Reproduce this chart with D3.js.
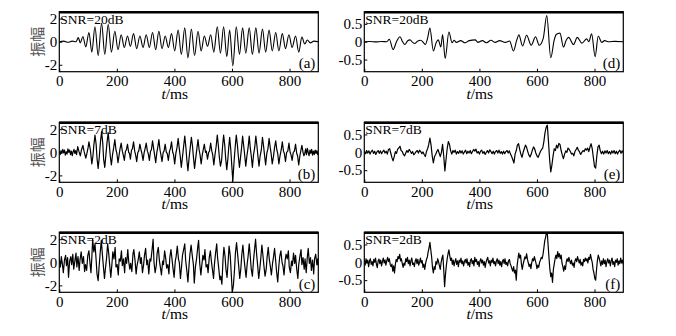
<!DOCTYPE html>
<html>
<head>
<meta charset="utf-8">
<script src="https://cdn.jsdelivr.net/npm/d3@7"></script>
<style>
  body { margin: 0; background: #fff; }
  svg { display: block; font-family: "Liberation Serif", "Times New Roman", serif; }
  .tick line { stroke: #000; stroke-width: 1; }
  .tick text { fill: #000; font-size: 15px; font-family: "Liberation Serif", serif; }
  .axis-title { font-size: 15.5px; }
  .snr-label { font-size: 13.5px; }
  .panel-tag { font-size: 15px; }
  .y-title { font-family: "Noto Sans CJK SC", sans-serif; font-size: 15px; fill: #555; }
</style>
</head>
<body>
<div id="chart"></div>
<script>
// time axis shared by every panel
const timeDomain = [0, 900];
const timeTicks = [0, 200, 400, 600, 800];

// amplitude axes: left column (a-c), right column (d-f)
const leftDomain = [-2.6, 2.6];
const leftTicks = [-2, 0, 2];
const rightDomain = [-0.84, 0.84];
const rightTicks = [-0.5, 0, 0.5];

const snrLabels = ["SNR=20dB", "SNR=7dB", "SNR=2dB"];
const panelTags = ["(a)", "(b)", "(c)", "(d)", "(e)", "(f)"];

// (a) clean trace, turning points [t(ms), amplitude]
const traceA = [[0,0],[15,0.05],[30,-0.05],[45,0.05],[58,0],[66,0.35],[73,-0.1],[82,0.45],[92,-0.45],[103,0.8],[113,-0.9],[124,1.3],[135,-1.2],[147,1.6],[158,-1.1],[170,1.5],[181,-0.9],[193,0.9],[204,-0.7],[215,0.6],[226,-0.5],[237,0.5],[247,-0.4],[258,0.7],[269,-0.6],[280,0.5],[291,-0.5],[302,0.6],[313,-0.5],[324,0.8],[335,-0.7],[346,0.9],[357,-0.6],[368,0.5],[379,-0.5],[390,0.7],[401,-0.8],[413,1.0],[424,-1.1],[436,1.2],[447,-1.4],[459,1.1],[470,-1.2],[482,0.9],[493,-0.8],[504,0.5],[515,-0.4],[526,0.6],[537,-0.9],[549,1.3],[560,-1.0],[571,1.3],[582,-1.3],[592,1.0],[603,-2.1],[615,1.3],[626,-1.1],[637,1.2],[648,-1.0],[660,1.2],[671,-1.1],[683,1.2],[694,-1.0],[706,1.1],[717,-0.9],[729,1.0],[740,-0.8],[752,0.8],[763,-0.8],[775,0.7],[786,-0.6],[798,0.6],[809,-0.5],[821,0.5],[832,-0.9],[843,0.4],[853,-0.2],[862,0.15],[872,-0.1],[885,0.05],[900,0]];

// (b) SNR=7dB
const traceB = [[0,0.1],[3,-0.2],[6,0.15],[9,-0.1],[12,0.25],[15,-0.05],[18,0.2],[21,-0.25],[24,0.05],[27,-0.15],[30,0.3],[33,0],[36,0.2],[39,-0.2],[42,0.1],[45,-0.3],[48,0.05],[51,0.25],[54,-0.1],[57,0.15],[60,-0.2],[64,0.5],[68,0.1],[73,-0.3],[77,0.2],[82,0.6],[86,0.1],[92,-0.5],[96,-0.1],[100,0.4],[103,0.9],[108,0.2],[113,-1.0],[117,-0.3],[120,0.6],[124,1.5],[128,0.7],[131,-0.5],[135,-1.4],[139,-0.4],[143,0.9],[147,1.8],[151,0.8],[154,-0.6],[158,-1.3],[162,-0.2],[166,0.9],[170,1.7],[174,0.6],[177,-0.3],[181,-1.1],[185,-0.2],[189,0.4],[193,1.1],[197,0.2],[200,-0.1],[204,-0.9],[208,-0.2],[211,0.3],[215,0.8],[219,0.1],[222,-0.2],[226,-0.7],[230,0.1],[233,0.2],[237,0.7],[241,0.0],[244,-0.1],[247,-0.6],[251,0.2],[254,0.3],[258,0.9],[262,0.1],[265,-0.2],[269,-0.8],[273,0.0],[276,0.1],[280,0.7],[284,0.2],[287,-0.1],[291,-0.7],[295,0.0],[298,0.3],[302,0.8],[306,0.1],[309,-0.1],[313,-0.7],[317,0.1],[320,0.2],[324,1.0],[328,0.3],[331,-0.2],[335,-0.9],[339,0.0],[342,0.4],[346,1.1],[350,0.2],[353,-0.2],[357,-0.8],[361,0.0],[364,0.1],[368,0.7],[372,0.0],[375,-0.1],[379,-0.7],[383,0.1],[386,0.3],[390,0.9],[394,0.0],[397,-0.2],[401,-1.0],[405,-0.1],[409,0.4],[413,1.2],[417,0.3],[420,-0.3],[424,-1.3],[428,-0.4],[432,0.5],[436,1.4],[440,0.4],[443,-0.6],[447,-1.6],[451,-0.5],[455,0.4],[459,1.3],[463,0.5],[466,-0.4],[470,-1.4],[474,-0.5],[478,0.3],[482,1.1],[486,0.2],[489,-0.2],[493,-1.0],[497,-0.2],[500,0.2],[504,0.7],[508,0.0],[511,0.1],[515,-0.6],[519,0.0],[522,0.1],[526,0.8],[530,0.1],[533,-0.2],[537,-1.1],[541,-0.2],[545,0.5],[549,1.5],[553,0.5],[556,-0.4],[560,-1.2],[564,-0.7],[567,0.4],[571,1.5],[575,0.6],[578,-0.5],[582,-1.5],[586,-0.5],[589,0.5],[592,1.3],[596,0.2],[599,-1.0],[603,-2.5],[607,-0.9],[611,0.4],[615,1.5],[619,0.6],[622,-0.3],[626,-1.3],[630,-0.4],[633,0.3],[637,1.4],[641,0.5],[644,-0.2],[648,-1.2],[652,-0.3],[656,0.4],[660,1.4],[664,0.3],[667,-0.3],[671,-1.3],[675,-0.2],[679,0.4],[683,1.4],[687,0.5],[690,-0.3],[694,-1.2],[698,-0.3],[702,0.2],[706,1.3],[710,0.5],[713,-0.2],[717,-1.1],[721,-0.1],[725,0.3],[729,1.2],[733,0.4],[736,-0.1],[740,-1.0],[744,-0.4],[748,0.4],[752,1.0],[756,0.2],[759,-0.1],[763,-1.0],[767,-0.3],[771,0.2],[775,0.9],[779,0.1],[782,-0.1],[786,-0.8],[790,0.0],[794,0.1],[798,0.8],[802,0.0],[805,-0.2],[809,-0.7],[813,0.0],[817,0.1],[821,0.7],[825,-0.1],[828,-0.3],[832,-1.1],[836,-0.3],[839,0.1],[843,0.6],[847,0.0],[850,-0.3],[853,-0.1],[856,0.3],[859,-0.2],[862,0.35],[865,0.0],[868,-0.3],[871,0.2],[874,-0.1],[877,0.25],[880,-0.25],[883,0.1],[886,-0.2],[889,0.2],[892,-0.1],[895,0.15],[898,-0.2],[900,0.05]];

// (c) SNR=2dB
const traceC = [[0,0.3],[4,-0.4],[7,0.5],[11,-0.2],[14,-0.9],[18,0.2],[22,0.6],[25,-0.3],[29,0.4],[32,-1.3],[36,0.1],[40,0.5],[43,-0.2],[47,0.7],[50,-0.6],[54,0.1],[58,0.8],[61,-0.4],[65,0.5],[69,-0.7],[72,0.2],[76,0.9],[80,-0.1],[84,0.5],[88,-0.8],[91,-0.2],[95,-0.7],[99,0.6],[103,1.0],[106,0.1],[110,-0.9],[113,0.4],[116,2.0],[120,0.9],[124,1.6],[128,0.2],[131,-1.0],[135,-1.6],[138,-0.5],[142,0.8],[146,1.9],[150,0.6],[153,-0.3],[157,-1.4],[160,-0.6],[164,0.3],[168,1.6],[172,0.7],[175,-0.2],[179,-1.3],[183,-0.1],[186,0.9],[190,0.3],[194,1.3],[197,-0.4],[201,-0.2],[205,-1.1],[208,0.3],[212,0.1],[216,1.0],[219,-0.3],[223,0.3],[227,-0.9],[230,0.4],[234,-0.1],[238,1.1],[241,0.1],[245,-0.6],[248,-0.1],[252,-0.8],[256,0.7],[259,1.1],[263,0.2],[267,-1.0],[270,-0.3],[274,0.2],[278,0.9],[282,-0.1],[285,0.4],[289,-0.9],[293,-0.2],[296,0.6],[300,1.2],[304,-0.2],[307,0.2],[311,-1.0],[315,0.3],[318,0.1],[322,1.0],[326,2.0],[329,0.0],[333,-0.9],[337,-0.3],[340,0.8],[344,1.3],[348,0.1],[351,-0.4],[355,-1.1],[359,0.1],[362,-0.2],[366,1.0],[370,0.3],[373,-0.5],[377,-0.2],[381,-1.0],[384,0.4],[388,1.1],[392,0.2],[395,-0.5],[399,-1.3],[403,0.1],[406,0.5],[410,1.4],[414,0.3],[417,0.0],[421,-1.4],[425,-0.3],[428,0.6],[432,1.1],[436,1.6],[439,0.2],[443,-0.7],[447,-1.7],[451,-0.2],[454,0.7],[458,1.5],[462,0.6],[466,-0.2],[469,-1.8],[473,-0.4],[477,0.3],[481,1.3],[484,1.9],[488,-0.1],[492,-1.1],[495,-0.3],[499,0.6],[503,0.2],[506,1.1],[510,-0.4],[514,-0.2],[517,-0.9],[521,0.4],[525,1.0],[528,0.2],[532,-0.6],[536,-1.4],[539,-0.2],[543,0.8],[547,1.6],[550,0.4],[554,-0.5],[558,-1.5],[561,-1.2],[565,-1.9],[569,0.3],[572,1.3],[576,0.5],[579,-0.6],[583,-1.3],[587,0.2],[590,1.4],[594,0.6],[598,-1.2],[601,-2.6],[605,-2.0],[609,-0.6],[612,0.8],[616,1.7],[620,0.6],[623,-0.2],[627,-1.4],[631,-0.5],[634,0.6],[638,1.5],[642,0.3],[645,-0.4],[649,-1.3],[653,-0.1],[656,0.5],[660,1.6],[664,0.4],[667,-0.6],[671,-1.2],[675,0.2],[678,1.0],[682,2.0],[686,0.6],[689,-0.2],[693,-1.4],[697,-0.5],[700,0.3],[704,1.5],[708,0.5],[711,-0.3],[715,-1.2],[719,-0.6],[722,0.4],[726,1.3],[730,0.2],[733,-0.3],[737,-1.1],[741,-0.1],[744,0.4],[748,1.2],[752,0.1],[755,-0.8],[759,-1.7],[763,-0.3],[766,0.5],[770,1.0],[774,0.0],[777,-0.3],[781,-1.1],[785,0.2],[788,0.7],[792,0.3],[796,1.0],[799,-0.4],[803,-0.9],[807,0.1],[810,-0.3],[814,0.8],[818,-0.1],[821,0.6],[825,-0.6],[829,-1.4],[832,-0.2],[836,0.5],[840,1.1],[843,-0.2],[847,0.4],[851,-0.6],[854,0.3],[858,-0.9],[862,0.5],[865,1.2],[869,-0.1],[873,0.4],[876,-0.7],[880,0.2],[884,-1.0],[887,0.3],[891,0.7],[895,-0.2],[898,0.3],[900,-0.3]];

// (d) clean trace, turning points
const traceD = [[0,0],[20,0.005],[40,-0.005],[60,0.005],[78,0],[87,0.07],[100,-0.22],[112,0.0],[124,0.14],[133,0.0],[141,-0.08],[150,0.02],[159,0.05],[168,-0.02],[176,-0.05],[186,0.02],[196,0.04],[205,-0.02],[212,-0.08],[220,0.1],[228,0.38],[240,-0.26],[250,-0.02],[257,0.05],[266,-0.15],[272,0.2],[281,-0.47],[294,0.27],[305,-0.03],[312,0.04],[320,-0.02],[335,0.03],[350,-0.03],[365,0.03],[385,0.05],[395,-0.02],[410,0.03],[425,-0.03],[440,0.04],[455,-0.02],[470,0.03],[490,-0.02],[505,0.02],[518,-0.26],[530,0.05],[537,0.19],[550,-0.12],[564,0.18],[580,-0.1],[595,0.14],[608,-0.1],[622,0.1],[634,0.73],[648,-0.45],[660,0.05],[667,0.2],[680,0.24],[692,-0.15],[702,0.05],[710,0.12],[727,-0.08],[740,0.12],[756,-0.04],[773,0.08],[780,0.0],[790,0.22],[802,-0.42],[813,0.16],[825,-0.02],[835,0.03],[850,0],[870,0.01],[900,0]];

// (e) SNR=7dB
const traceE = [[0,0.03],[4,-0.04],[8,0.05],[12,-0.02],[16,0.04],[20,-0.05],[24,0.02],[28,0.06],[32,-0.03],[36,0.03],[40,-0.06],[44,0.01],[48,0.05],[52,-0.03],[56,0.04],[60,-0.04],[64,0.02],[68,0.06],[72,-0.02],[76,0.03],[80,-0.05],[84,0.08],[88,0.1],[92,-0.02],[96,-0.15],[100,-0.24],[104,-0.12],[108,0.02],[112,-0.03],[116,0.09],[120,0.12],[124,0.17],[128,0.05],[132,0.02],[136,-0.06],[140,-0.1],[144,-0.02],[148,0.05],[152,0.0],[156,0.08],[160,0.03],[164,-0.03],[168,0.02],[172,-0.07],[176,-0.03],[180,0.02],[184,0.05],[188,-0.02],[192,0.06],[196,0.02],[200,-0.04],[204,0.01],[208,-0.06],[212,-0.12],[216,0.02],[220,0.1],[224,0.22],[228,0.4],[232,0.2],[236,-0.1],[240,-0.3],[244,-0.12],[248,-0.06],[252,0.02],[256,0.08],[260,-0.02],[264,-0.12],[268,0.0],[272,0.22],[276,-0.1],[280,-0.52],[284,-0.2],[288,0.1],[292,0.3],[296,0.22],[300,0.04],[304,-0.05],[308,0.05],[312,0.0],[316,0.06],[320,-0.05],[324,0.02],[328,-0.03],[332,0.05],[336,-0.02],[340,0.04],[344,-0.05],[348,0.01],[352,0.06],[356,-0.04],[360,0.03],[364,-0.02],[368,0.05],[372,-0.04],[376,0.02],[380,0.08],[384,0.03],[388,0.09],[392,-0.02],[396,0.02],[400,-0.05],[404,0.03],[408,0.06],[412,-0.03],[416,0.02],[420,-0.06],[424,0.0],[428,0.05],[432,-0.02],[436,0.07],[440,0.02],[444,-0.04],[448,0.03],[452,-0.05],[456,0.02],[460,0.05],[464,-0.02],[468,0.06],[472,-0.03],[476,0.02],[480,-0.05],[484,0.03],[488,-0.04],[492,0.02],[496,0.05],[500,-0.02],[504,0.04],[508,-0.05],[512,-0.12],[516,-0.2],[520,-0.3],[524,-0.05],[528,0.05],[532,0.2],[536,0.24],[540,0.08],[544,-0.05],[548,-0.14],[552,0.0],[556,0.1],[560,0.2],[564,0.14],[568,0.02],[572,-0.08],[576,-0.13],[580,-0.05],[584,0.06],[588,0.15],[592,0.1],[596,-0.02],[600,-0.1],[604,-0.14],[608,-0.06],[612,0.02],[616,0.08],[620,0.12],[624,0.3],[628,0.55],[632,0.7],[636,0.76],[640,0.3],[644,-0.2],[648,-0.55],[652,-0.35],[656,-0.1],[660,0.1],[664,0.05],[668,0.2],[672,0.12],[676,0.25],[680,0.22],[684,0.05],[688,-0.08],[692,-0.18],[696,-0.05],[700,0.04],[704,0.0],[708,0.12],[712,0.08],[716,0.02],[720,-0.05],[724,-0.03],[728,-0.1],[732,0.02],[736,0.08],[740,0.14],[744,0.06],[748,0.01],[752,-0.06],[756,0.0],[760,0.05],[764,0.02],[768,0.1],[772,0.06],[776,0.12],[780,0.02],[784,0.14],[788,0.24],[792,0.1],[796,-0.15],[800,-0.4],[804,-0.44],[808,-0.1],[812,0.15],[816,0.2],[820,0.04],[824,-0.04],[828,0.03],[832,-0.05],[836,0.04],[840,-0.02],[844,0.05],[848,-0.04],[852,0.02],[856,-0.05],[860,0.04],[864,-0.02],[868,0.05],[872,-0.04],[876,0.03],[880,-0.05],[884,0.02],[888,0.06],[892,-0.03],[896,0.04],[900,-0.02]];

// (f) SNR=2dB
const traceF = [[0,0.05],[3,-0.08],[6,0.1],[9,-0.02],[12,0.06],[15,-0.12],[18,0.04],[21,0.1],[24,-0.06],[27,0.02],[30,-0.1],[33,0.08],[36,0.0],[39,0.12],[42,-0.05],[45,-0.15],[48,0.03],[51,0.09],[54,-0.04],[57,0.06],[60,-0.1],[63,0.02],[66,0.12],[69,-0.02],[72,0.07],[75,-0.08],[78,0.04],[81,0.14],[84,0.02],[87,0.1],[90,-0.06],[93,-0.12],[96,-0.05],[99,-0.25],[102,-0.1],[105,-0.3],[108,-0.05],[111,0.08],[114,0.02],[117,0.16],[120,0.1],[123,0.22],[126,0.04],[129,0.1],[132,-0.04],[135,-0.14],[138,-0.02],[141,-0.08],[144,0.1],[147,0.02],[150,0.14],[153,-0.04],[156,0.06],[159,-0.1],[162,0.04],[165,0.12],[168,-0.06],[171,-0.02],[174,-0.12],[177,0.04],[180,0.1],[183,-0.04],[186,0.08],[189,-0.08],[192,0.0],[195,0.12],[198,-0.02],[201,0.05],[204,-0.14],[207,-0.05],[210,-0.2],[213,-0.04],[216,0.08],[219,0.14],[222,0.3],[225,0.4],[228,0.56],[231,0.35],[234,0.15],[237,-0.15],[240,-0.3],[243,-0.12],[246,-0.2],[249,0.02],[252,-0.05],[255,0.1],[258,0.02],[261,-0.1],[264,-0.2],[267,0.0],[270,0.12],[273,0.2],[276,-0.2],[279,-0.68],[282,-0.35],[285,-0.1],[288,0.1],[291,0.24],[294,0.35],[297,0.18],[300,0.05],[303,0.12],[306,-0.06],[309,0.06],[312,-0.1],[315,0.02],[318,0.1],[321,-0.06],[324,0.04],[327,-0.12],[330,0.06],[333,0.0],[336,0.12],[339,-0.04],[342,0.04],[345,-0.1],[348,0.02],[351,0.08],[354,-0.02],[357,0.1],[360,-0.08],[363,0.0],[366,-0.12],[369,0.06],[372,0.1],[375,-0.04],[378,0.05],[381,-0.1],[384,0.14],[387,0.02],[390,0.08],[393,-0.06],[396,0.02],[399,-0.12],[402,0.04],[405,0.1],[408,-0.02],[411,0.06],[414,-0.08],[417,0.02],[420,-0.14],[423,0.0],[426,0.08],[429,0.14],[432,-0.02],[435,0.04],[438,-0.1],[441,0.06],[444,0.0],[447,0.12],[450,-0.04],[453,0.02],[456,-0.1],[459,0.04],[462,0.1],[465,-0.04],[468,0.06],[471,-0.08],[474,0.02],[477,-0.12],[480,0.02],[483,0.08],[486,-0.04],[489,0.1],[492,-0.06],[495,0.0],[498,-0.1],[501,0.04],[504,0.08],[507,-0.04],[510,-0.1],[513,-0.18],[516,-0.25],[519,-0.12],[522,-0.3],[525,-0.22],[528,-0.5],[531,-0.1],[534,0.1],[537,0.26],[540,0.12],[543,0.2],[546,-0.05],[549,-0.2],[552,-0.05],[555,0.05],[558,0.15],[561,0.1],[564,0.24],[567,0.08],[570,-0.02],[573,-0.12],[576,-0.05],[579,-0.18],[582,0.0],[585,0.1],[588,0.04],[591,0.16],[594,0.06],[597,-0.04],[600,-0.18],[603,-0.08],[606,-0.14],[609,0.0],[612,0.06],[615,0.14],[618,0.1],[621,0.22],[624,0.4],[627,0.6],[630,0.7],[633,0.84],[636,0.8],[639,0.45],[642,0.1],[645,-0.2],[648,-0.4],[651,-0.3],[654,-0.56],[657,-0.2],[660,-0.05],[663,0.1],[666,0.2],[669,0.1],[672,0.3],[675,0.15],[678,0.24],[681,0.1],[684,0.2],[687,-0.02],[690,-0.12],[693,-0.25],[696,-0.1],[699,-0.2],[702,0.02],[705,0.1],[708,0.02],[711,0.14],[714,0.04],[717,-0.04],[720,0.06],[723,-0.08],[726,-0.02],[729,-0.14],[732,0.04],[735,0.1],[738,0.02],[741,0.16],[744,0.06],[747,-0.02],[750,0.08],[753,-0.08],[756,0.0],[759,-0.1],[762,0.08],[765,0.02],[768,0.12],[771,0.04],[774,0.1],[777,-0.02],[780,0.14],[783,0.08],[786,0.22],[789,0.1],[792,0.0],[795,-0.2],[798,-0.3],[801,-0.45],[804,-0.5],[807,-0.2],[810,0.05],[813,0.2],[816,0.12],[819,0.02],[822,-0.1],[825,0.04],[828,-0.06],[831,0.1],[834,-0.04],[837,0.06],[840,-0.12],[843,0.02],[846,0.1],[849,-0.02],[852,0.06],[855,-0.1],[858,0.04],[861,0.12],[864,-0.06],[867,0.02],[870,-0.12],[873,0.06],[876,0.0],[879,0.1],[882,-0.08],[885,0.04],[888,-0.04],[891,0.12],[894,-0.02],[897,0.06],[900,-0.06]];

const width = 676;
const height = 336;
const colLeft = [59.3, 364.3];
const rowTop = [11.7, 122.3, 232.3];
const plotW = 259;
const plotH = 60;

const svg = d3.select("#chart")
  .append("svg")
  .attr("width", width)
  .attr("height", height);

const panels = [
  { data: traceA, col: 0, row: 0, smooth: true },
  { data: traceB, col: 0, row: 1, smooth: false },
  { data: traceC, col: 0, row: 2, smooth: false },
  { data: traceD, col: 1, row: 0, smooth: true },
  { data: traceE, col: 1, row: 1, smooth: false },
  { data: traceF, col: 1, row: 2, smooth: false }
];

panels.forEach((p, i) => {
  const left = p.col === 0;
  const g = svg.append("g")
    .attr("transform", `translate(${colLeft[p.col]},${rowTop[p.row]})`);

  const x = d3.scaleLinear().domain(timeDomain).range([0, plotW]);
  const y = d3.scaleLinear()
    .domain(left ? leftDomain : rightDomain)
    .range([plotH, 0]);

  const clipId = `clip-${i}`;
  g.append("clipPath").attr("id", clipId)
    .append("rect").attr("width", plotW).attr("height", plotH);

  const line = d3.line()
    .x((d) => x(d[0]))
    .y((d) => y(d[1]))
    .curve(p.smooth ? d3.curveMonotoneX : d3.curveLinear);

  g.append("path")
    .datum(p.data)
    .attr("clip-path", `url(#${clipId})`)
    .attr("fill", "none")
    .attr("stroke", "#000")
    .attr("stroke-width", p.smooth ? 1.1 : 1.2)
    .attr("stroke-linejoin", "round")
    .attr("d", line);

  // axes with inward ticks
  const xAxis = g.append("g")
    .attr("transform", `translate(0,${plotH})`)
    .call(d3.axisBottom(x).tickValues(timeTicks).tickSize(-3).tickPadding(3.6)
      .tickFormat((d) => String(d)));
  xAxis.attr("font-family", null).attr("font-size", null);
  xAxis.select(".domain").remove();

  const yAxis = g.append("g")
    .call(d3.axisLeft(y).tickValues(left ? leftTicks : rightTicks)
      .tickSize(-3).tickPadding(2).tickFormat((d) => String(d)));
  yAxis.attr("font-family", null).attr("font-size", null);
  yAxis.select(".domain").remove();

  // frame, heavier on top
  g.append("rect")
    .attr("width", plotW).attr("height", plotH)
    .attr("fill", "none").attr("stroke", "#000").attr("stroke-width", 1.2);
  g.append("line")
    .attr("x1", 0).attr("x2", plotW).attr("y1", 0.5).attr("y2", 0.5)
    .attr("stroke", "#000").attr("stroke-width", 2.4);

  g.append("text")
    .attr("class", "snr-label")
    .attr("x", 1)
    .attr("y", 12)
    .text(snrLabels[p.row]);

  g.append("text")
    .attr("class", "panel-tag")
    .attr("x", plotW - 3)
    .attr("y", plotH - 3.5)
    .attr("text-anchor", "end")
    .text(panelTags[i]);

  const title = g.append("text")
    .attr("class", "axis-title")
    .attr("x", plotW / 2 - 14)
    .attr("y", plotH + 27)
    .attr("text-anchor", "middle");
  title.append("tspan").attr("font-style", "italic").text("t");
  title.append("tspan").text("/ms");

  if (left) {
    g.append("text")
      .attr("class", "y-title")
      .attr("transform", "rotate(-90)")
      .attr("x", -plotH / 2)
      .attr("y", -16)
      .attr("text-anchor", "middle")
      .text("振幅");
  }
});
</script>
</body>
</html>
